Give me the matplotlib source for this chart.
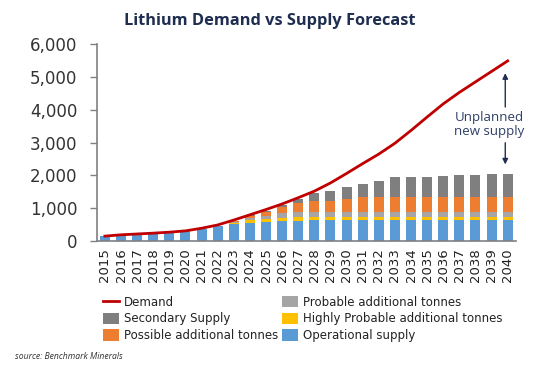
import numpy as np
import matplotlib
matplotlib.use('Agg')
import matplotlib.pyplot as plt

years = [str(y) for y in range(2015, 2041)]

demand = [150, 190, 215, 240, 270, 310, 390, 490, 640, 800, 960, 1130, 1320,
          1520, 1770, 2060, 2360, 2650, 2980, 3370, 3780, 4180, 4530, 4850, 5170, 5490]

operational = [150, 170, 195, 225, 255, 305, 375, 455, 510, 560, 590, 610, 620,
               630, 635, 640, 640, 640, 640, 640, 640, 640, 640, 640, 640, 640]
highly_probable = [0, 0, 0, 0, 0, 0, 0, 10, 50, 70, 90, 100, 100,
                   100, 100, 100, 100, 100, 100, 100, 100, 100, 100, 100, 100, 100]
probable = [0, 0, 0, 0, 0, 0, 0, 0, 20, 60, 90, 130, 150,
            155, 155, 155, 155, 155, 155, 155, 155, 155, 155, 155, 155, 155]
possible = [0, 0, 0, 0, 0, 0, 0, 0, 20, 60, 120, 200, 300,
            320, 345, 395, 435, 455, 455, 455, 455, 455, 455, 455, 455, 455]
secondary = [0, 0, 0, 0, 0, 0, 0, 0, 0, 30, 40, 60, 100,
             250, 305, 365, 410, 490, 590, 610, 610, 640, 660, 670, 680, 680]

c_oper = '#5b9bd5'
c_high = '#ffc000'
c_prob = '#a5a5a5'
c_poss = '#ed7d31'
c_sec = '#7f7f7f'
c_dem = '#c00000'
navy = '#1f2d50'

plt.rcParams['font.family'] = ['DejaVu Sans']

fig = plt.figure(figsize=(5.35, 3.68), dpi=100)
ax = fig.add_axes([0.181, 0.345, 0.783, 0.535])

x = np.arange(len(years))
w = 0.62
bottom = np.zeros(len(years))
stacks = [(operational, c_oper, 'Operational supply'),
          (highly_probable, c_high, 'Highly Probable additional tonnes'),
          (probable, c_prob, 'Probable additional tonnes'),
          (possible, c_poss, 'Possible additional tonnes'),
          (secondary, c_sec, 'Secondary Supply')]
bars = {}
for vals, col, name in stacks:
    bars[name] = ax.bar(x, vals, w, bottom=bottom, color=col, label=name)
    bottom += np.array(vals)

line, = ax.plot(x, demand, color=c_dem, lw=2, label='Demand', zorder=5)

ax.set_xlim(-0.5, 25.5)
ax.set_ylim(0, 6000)
ax.set_yticks(range(0, 6001, 1000))
ax.set_yticklabels(['{:,}'.format(v) for v in range(0, 6001, 1000)], fontsize=12, color='#333333')
ax.set_xticks(x)
ax.set_xticklabels(years, rotation=90, fontsize=9.5, color='#222222')
ax.tick_params(axis='y', length=5, width=1, color='#808080', pad=9)
ax.tick_params(axis='x', length=0, pad=5)
for s in ['top', 'right']:
    ax.spines[s].set_visible(False)
for s in ['left', 'bottom']:
    ax.spines[s].set_color('#808080')
    ax.spines[s].set_linewidth(1.2)

# unplanned supply annotation
ax.annotate('', xy=(24.85, 5200), xytext=(24.85, 4000),
            arrowprops=dict(arrowstyle='-|>', color=navy, lw=1, mutation_scale=8))
ax.annotate('', xy=(24.85, 2250), xytext=(24.85, 3080),
            arrowprops=dict(arrowstyle='-|>', color=navy, lw=1, mutation_scale=8))
ax.text(23.85, 3550, 'Unplanned\nnew supply', ha='center', va='center',
        fontsize=9.5, color='#2d3e66', linespacing=1.1, family='Open Sans')

fig.text(0.505, 0.943, 'Lithium Demand vs Supply Forecast', ha='center', va='center',
         fontsize=11.8, fontweight='bold', color=navy, family='Open Sans')

handles = [line, bars['Secondary Supply'], bars['Possible additional tonnes'],
           bars['Probable additional tonnes'], bars['Highly Probable additional tonnes'],
           bars['Operational supply']]
labels = ['Demand', 'Secondary Supply', 'Possible additional tonnes',
          'Probable additional tonnes', 'Highly Probable additional tonnes', 'Operational supply']
fig.legend(handles, labels, ncol=2, loc='upper left', bbox_to_anchor=(0.172, 0.225),
           frameon=False, fontsize=8.5, handlelength=1.4, handleheight=1.1,
           handletextpad=0.4, columnspacing=0.3, labelspacing=0.3,
           labelcolor='#222222')

fig.text(0.028, 0.025, 'source: Benchmark Minerals', fontsize=6.2, style='italic',
         color='#333333', family='Open Sans')

fig.savefig('out.png', dpi=100)
